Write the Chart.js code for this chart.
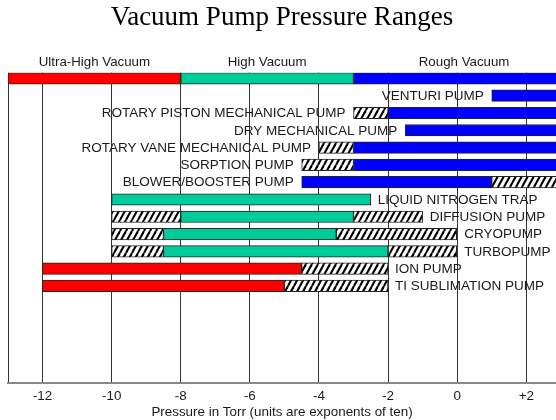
<!DOCTYPE html>
<html><head><meta charset="utf-8">
<script src="https://cdn.jsdelivr.net/npm/chart.js@4/dist/chart.umd.min.js"></script>
<style>html,body{margin:0;padding:0;background:#fff;overflow:hidden}#wrap{width:556px;height:420px;position:relative}</style>
</head><body><div id="wrap"><canvas id="c" width="556" height="420"></canvas></div>
<script>
const titleText = 'Vacuum Pump Pressure Ranges';
const axisTitle = 'Pressure in Torr (units are exponents of ten)';
const regionNames = ['Ultra-High Vacuum', 'High Vacuum', 'Rough Vacuum'];
const regionRanges = [[-13, -8], [-8, -3], [-3, 3.4]];
const regionClass = ['uhv', 'hv', 'rough'];
const pumps = ['VENTURI PUMP', 'ROTARY PISTON MECHANICAL PUMP', 'DRY MECHANICAL PUMP',
  'ROTARY VANE MECHANICAL PUMP', 'SORPTION PUMP', 'BLOWER/BOOSTER PUMP',
  'LIQUID NITROGEN TRAP', 'DIFFUSION PUMP', 'CRYOPUMP', 'TURBOPUMP',
  'ION PUMP', 'TI SUBLIMATION PUMP'];
const pumpClass = ['rough', 'rough', 'rough', 'rough', 'rough', 'rough', 'hv', 'hv', 'hv', 'hv', 'uhv', 'uhv'];
const coreRanges = [[1, 3.4], [-2, 3.4], [-1.5, 3.4], [-3, 3.4], [-3, 3.4], [-4.5, 1],
  [-10, -2.5], [-8, -3], [-8.5, -3.5], [-8.5, -2], [-12, -4.5], [-12, -5]];
const lowExtRanges = [null, [-3, -2], null, [-4, -3], [-4.5, -3], null,
  null, [-10, -8], [-10, -8.5], [-10, -8.5], null, null];
const highExtRanges = [null, null, null, null, null, [1, 3.4],
  null, [-3, -1], [-3.5, 0], [-2, 0], [-4.5, -2], [-5, -2]];
const labelSide = ['left', 'left', 'left', 'left', 'left', 'left', 'right', 'right', 'right', 'right', 'right', 'right'];
const tickValues = [-13, -12, -10, -8, -6, -4, -2, 0, 2];
const tickLabels = ['', '-12', '-10', '-8', '-6', '-4', '-2', '0', '+2'];

const classColors = {uhv: '#FF0000', hv: '#00CC99', rough: '#0000FF'};

function makeHatch() {
  const w = 6, h = 11;
  const c = document.createElement('canvas');
  c.width = w; c.height = h;
  const g = c.getContext('2d');
  g.fillStyle = '#fff'; g.fillRect(0, 0, w, h);
  g.strokeStyle = '#000'; g.lineWidth = 2.1;
  for (const off of [-w, 0, w]) {
    g.beginPath(); g.moveTo(off, h); g.lineTo(off + w, 0); g.stroke();
  }
  return g.createPattern(c, 'repeat');
}
const hatch = makeHatch();

const byClass = {uhv: [], hv: [], rough: []};
regionRanges.forEach((r, i) => byClass[regionClass[i]].push({x: r, y: 0}));
coreRanges.forEach((r, i) => byClass[pumpClass[i]].push({x: r, y: i + 1}));
const hatchData = [];
lowExtRanges.forEach((r, i) => { if (r) hatchData.push({x: r, y: i + 1}); });
highExtRanges.forEach((r, i) => { if (r) hatchData.push({x: r, y: i + 1}); });

const common = {barThickness: 11.5, grouped: false, borderSkipped: false, borderWidth: 1, borderColor: '#222', clip: 0};
const datasets = [
  Object.assign({label: 'uhv', data: byClass.uhv, backgroundColor: classColors.uhv}, common),
  Object.assign({label: 'hv', data: byClass.hv, backgroundColor: classColors.hv}, common),
  Object.assign({label: 'rough', data: byClass.rough, backgroundColor: classColors.rough}, common),
  Object.assign({label: 'ext', data: hatchData, backgroundColor: hatch}, common)
];

const SANS = "'Liberation Sans', Arial, sans-serif";

const labelPlugin = {
  id: 'labels',
  afterDatasetsDraw(chart) {
    const ctx = chart.ctx, xs = chart.scales.x, ys = chart.scales.y;
    ctx.save();
    ctx.fillStyle = '#1a1a1a';
    ctx.textBaseline = 'middle';
    ctx.font = '13.5px ' + SANS;
    pumps.forEach((name, i) => {
      const all = [coreRanges[i], lowExtRanges[i], highExtRanges[i]].filter(Boolean);
      const lo = Math.min(...all.map(r => r[0]));
      const hi = Math.max(...all.map(r => r[1]));
      const y = ys.getPixelForValue(i + 1) + 0.5;
      if (labelSide[i] === 'left') {
        ctx.textAlign = 'right';
        ctx.fillText(name, xs.getPixelForValue(lo) - 8, y);
      } else {
        ctx.textAlign = 'left';
        ctx.fillText(name, xs.getPixelForValue(hi) + 7, y);
      }
    });
    ctx.font = '13.3px ' + SANS;
    ctx.textAlign = 'center';
    regionNames.forEach((n, i) => {
      const cx = xs.getPixelForValue((regionRanges[i][0] + regionRanges[i][1]) / 2);
      ctx.fillText(n, cx, ys.getPixelForValue(0) - 16);
    });
    ctx.restore();
  }
};

new Chart(document.getElementById('c'), {
  type: 'bar',
  data: {datasets},
  plugins: [labelPlugin],
  options: {
    indexAxis: 'y',
    responsive: false,
    animation: false,
    devicePixelRatio: 1,
    layout: {padding: {left: 8, right: 0, top: 0, bottom: 0}},
    plugins: {
      legend: {display: false},
      tooltip: {enabled: false},
      title: {
        display: true, text: titleText, color: '#000',
        font: {family: "'Liberation Serif', 'Times New Roman', serif", size: 27, weight: 'normal', lineHeight: 1.2},
        padding: {top: 2, bottom: 38.3}
      }
    },
    scales: {
      x: {
        type: 'linear', min: -13, max: 2.86, offset: false,
        afterBuildTicks(scale) { scale.ticks = tickValues.map(v => ({value: v})); },
        afterFit(scale) { scale.height = 36.7; },
        ticks: {
          autoSkip: false, maxRotation: 0, padding: 5, color: '#1a1a1a',
          font: {family: SANS, size: 13.4},
          callback(v) { const k = tickValues.indexOf(v); return k >= 0 ? tickLabels[k] : ''; }
        },
        grid: {color: '#333', lineWidth: 1, drawTicks: false, offset: false},
        border: {display: true, color: '#888', width: 2},
        title: {display: true, text: axisTitle, color: '#1a1a1a', font: {family: SANS, size: 13.4}, padding: 0}
      },
      y: {
        type: 'linear', reverse: true, min: -0.33, max: 17.63, display: false,
        offset: false, grid: {offset: false}
      }
    }
  }
});
</script></body></html>
